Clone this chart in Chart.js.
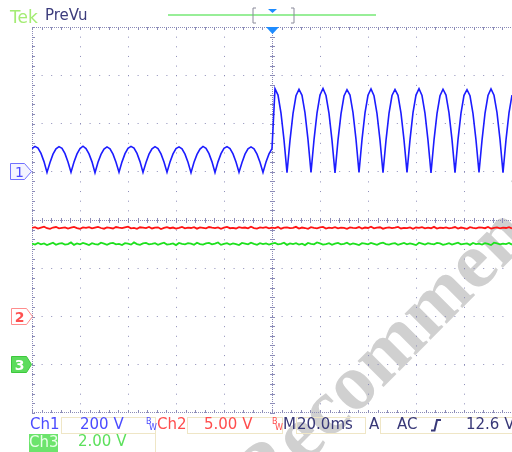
<!DOCTYPE html>
<html>
<head>
<meta charset="utf-8">
<script src="https://cdn.jsdelivr.net/npm/chart.js@4"></script>
<style>
  html, body { margin: 0; padding: 0; background: #fff; }
  #scope { position: relative; width: 512px; height: 452px; overflow: hidden; background: #fff; font-family: "DejaVu Sans", sans-serif; }
  #scope canvas { position: absolute; left: 0; top: 0; z-index: 1; }
  .txt { position: absolute; z-index: 2; font-size: 15px; line-height: 15px; white-space: nowrap; }
  .box { position: absolute; z-index: 2; border: 1px solid #efe6c6; box-sizing: border-box; }
  .vline { position: absolute; z-index: 2; width: 1px; background: #efe6c6; }
  .bw { position: absolute; z-index: 2; font-size: 8px; line-height: 8px; }
  .marker { position: absolute; z-index: 3; left: 0; width: 34px; height: 18px; }
  .marker span { position: absolute; left: 12px; top: 1px; width: 15px; text-align: center; font-size: 14px; line-height: 16px; }
  #watermark { position: absolute; z-index: 0; left: 423px; top: 310px; transform: translate(-50%, -50%) rotate(-45deg);
    font-family: "Liberation Serif", serif; font-weight: bold; font-size: 80px; color: #d0d0d0; white-space: nowrap; }
</style>
</head>
<body>
<div id="scope">
  <div id="watermark">Recommended</div>
  <canvas id="scope-canvas" width="512" height="452"></canvas>

  <!-- 上部ヘッダー -->
  <div class="txt" style="left:10px;top:9px;font-size:17px;line-height:17px;color:#a4ec74;">Tek</div>
  <div class="txt" style="left:45px;top:8px;color:#3c3c7c;">PreVu</div>
  <svg style="position:absolute;left:0;top:0;z-index:2" width="512" height="40">
    <line x1="168" y1="15" x2="376" y2="15" stroke="#98ee98" stroke-width="2"/>
    <polyline points="256,8 253,8 253,23 256,23" fill="none" stroke="#8a8a9a" stroke-width="1"/>
    <polyline points="291,8 294,8 294,23 291,23" fill="none" stroke="#8a8a9a" stroke-width="1"/>
    <polygon points="268,9 277,9 272.5,13" fill="#1e8cff"/>
    <polygon points="266,27 279,27 272.5,34" fill="#1e8cff"/>
  </svg>

  <!-- チャンネルマーカー -->
  <div class="marker" style="top:163px">
    <svg width="34" height="18"><polygon points="10.5,0.5 24.5,0.5 31.5,8.5 24.5,16.5 10.5,16.5" fill="#f4f4ff" stroke="#7070ff"/></svg>
    <span style="color:#4b4bff">1</span>
  </div>
  <div class="marker" style="top:308px">
    <svg width="34" height="18"><polygon points="11.5,0.5 26.5,0.5 32.5,8.5 26.5,16.5 11.5,16.5" fill="#fff" stroke="#ff8c8c"/></svg>
    <span style="color:#ff5050;font-weight:bold">2</span>
  </div>
  <div class="marker" style="top:356px">
    <svg width="34" height="18"><polygon points="11.5,0.5 26.5,0.5 31.5,8.5 26.5,16.5 11.5,16.5" fill="#5cdc5c" stroke="#3cc83c"/></svg>
    <span style="color:#fff;font-weight:bold">3</span>
  </div>

  <!-- 下部ステータス -->
  <div class="box" style="left:61px;top:417px;width:95px;height:17px"></div>
  <div class="vline" style="left:155px;top:433px;height:19px"></div>
  <div class="box" style="left:187px;top:417px;width:96px;height:17px"></div>
  <div class="box" style="left:296px;top:417px;width:70px;height:17px"></div>
  <div class="box" style="left:380px;top:417px;width:140px;height:17px"></div>

  <div class="txt" style="left:30px;top:417px;color:#4b4bff">Ch1</div>
  <div class="txt" style="left:80px;top:417px;color:#4b4bff">200 V</div>
  <div class="bw" style="left:146px;top:418px;color:#4b4bff">B</div>
  <div class="bw" style="left:149px;top:424px;color:#4b4bff">W</div>
  <div class="txt" style="left:157px;top:417px;color:#ff4d4d">Ch2</div>
  <div class="txt" style="left:204px;top:417px;color:#ff4d4d">5.00 V</div>
  <div class="bw" style="left:272px;top:418px;color:#ff4d4d">B</div>
  <div class="bw" style="left:275px;top:424px;color:#ff4d4d">W</div>
  <div class="txt" style="left:283px;top:417px;color:#383878">M</div>
  <div class="txt" style="left:297px;top:417px;color:#383878">20.0ms</div>
  <div class="txt" style="left:369px;top:417px;color:#383878">A</div>
  <div class="txt" style="left:397px;top:417px;color:#383878">AC</div>
  <svg style="position:absolute;left:0;top:410px;z-index:2" width="512" height="30">
    <polyline points="431,20.5 434.5,20.5 437,10 441,10" fill="none" stroke="#383878" stroke-width="2"/>
  </svg>
  <div class="txt" style="left:466px;top:417px;color:#383878">12.6 V</div>

  <div class="txt" style="left:29px;top:434px;width:29px;height:18px;background:#6ce46c;color:#e8ffe8;text-align:center;line-height:17px">Ch3</div>
  <div class="txt" style="left:78px;top:434px;color:#5ce05c">2.00 V</div>
</div>

<script>
// 時間軸（トリガー位置 = 0 ms）
const START_MS = -100;
const STEP_MS = 1.25;
const DIV_MS = 20;          // M 20.0ms
const X_TICKS = [-100, -80, -60, -40, -20, 0, 20, 40, 60, 80, 100];
const Y_TICKS = [-4, -3, -2, -1, 0, 1, 2, 3, 4];

// チャンネル設定（V/div と位置 div）
const CH1_VDIV = 200, CH1_POS = 1;
const CH2_VDIV = 5, CH2_POS = -2;
const CH3_VDIV = 2, CH3_POS = -3;

// Ch1 (V) — 全波整流波形、トリガーで振幅が増加
const ch1Volts = [
  96, 105, 98, 76, 42,
  -3, 38, 73, 95, 104, 97, 75, 40,
  -2, 40, 74, 96, 106, 96, 74, 41,
  -4, 39, 72, 94, 103, 95, 73, 39,
  -2, 41, 75, 97, 105, 98, 76, 42,
  -3, 38, 73, 95, 104, 96, 74, 40,
  -2, 40, 74, 96, 103, 95, 73, 39,
  -4, 39, 72, 94, 105, 97, 75, 41,
  -3, 41, 75, 97, 104, 96, 74, 40,
  -2, 38, 73, 95, 103, 95, 73, 39,
  -3, 40, 74, 96,
  344, 318, 243, 132,
  -4, 130, 241, 315, 342, 317, 244, 133,
  -3, 132, 243, 318, 345, 316, 242, 130,
  -5, 131, 240, 314, 340, 318, 245, 134,
  -3, 133, 244, 317, 343, 315, 241, 131,
  -4, 130, 242, 316, 341, 317, 243, 132,
  -3, 132, 245, 318, 344, 316, 242, 130,
  -5, 131, 241, 315, 342, 318, 244, 133,
  -4, 133, 243, 317, 340, 315, 241, 131,
  -3, 130, 242, 316, 343, 317, 245, 134,
  -4, 132, 244, 318
];

// Ch2 (V)
const ch2Volts = [
  9.18, 9.25, 9.12, 9.21, 9.30, 9.15, 9.09, 9.22, 9.27, 9.14, 9.19, 9.24, 9.11, 9.20, 9.28, 9.16, 9.08, 9.23, 9.19, 9.26,
  9.13, 9.21, 9.29, 9.17, 9.10, 9.24, 9.18, 9.12, 9.27, 9.20, 9.15, 9.23, 9.31, 9.14, 9.19, 9.09, 9.25, 9.21, 9.16, 9.28,
  9.12, 9.20, 9.24, 9.07, 9.18, 9.26, 9.15, 9.22, 9.11, 9.19, 9.29, 9.14, 9.21, 9.17, 9.25, 9.10, 9.23, 9.18, 9.13, 9.27,
  9.20, 9.16, 9.24, 9.09, 9.21, 9.28, 9.15, 9.19, 9.12, 9.26, 9.18, 9.22, 9.14, 9.30, 9.17, 9.11, 9.23, 9.19, 9.25, 9.13,
  9.21, 9.16, 9.27, 9.10, 9.20, 9.24, 9.15, 9.18, 9.29, 9.12, 9.22, 9.17, 9.08, 9.25, 9.19, 9.14, 9.23, 9.28, 9.11, 9.20,
  9.16, 9.26, 9.13, 9.21, 9.18, 9.09, 9.24, 9.19, 9.15, 9.27, 9.12, 9.22, 9.17, 9.30, 9.14, 9.20, 9.25, 9.10, 9.18, 9.23,
  9.15, 9.21, 9.28, 9.12, 9.19, 9.16, 9.24, 9.09, 9.22, 9.18, 9.26, 9.13, 9.20, 9.15, 9.29, 9.11, 9.21, 9.17, 9.24, 9.14,
  9.19, 9.27, 9.12, 9.22, 9.16, 9.08, 9.25, 9.18, 9.13, 9.23, 9.20, 9.15, 9.28, 9.11, 9.19, 9.24, 9.14, 9.21, 9.17, 9.26, 9.12
];

// Ch3 (V)
const ch3Volts = [
  5.02, 4.98, 5.05, 4.99, 5.03, 4.96, 5.01, 5.06, 4.97, 5.02, 5.04, 4.98, 5.00, 5.07, 4.97, 5.03, 4.99, 5.05, 5.01, 4.96,
  5.04, 5.00, 4.98, 5.06, 5.02, 4.97, 5.03, 5.05, 4.99, 5.01, 4.96, 5.04, 5.02, 4.98, 5.07, 5.00, 4.97, 5.03, 5.05, 4.99,
  5.01, 5.04, 4.97, 5.02, 5.06, 4.98, 5.00, 5.03, 4.96, 5.05, 5.01, 4.99, 5.04, 5.02, 4.97, 5.06, 5.00, 4.98, 5.03, 5.05,
  4.99, 5.02, 5.07, 4.97, 5.01, 5.04, 4.98, 5.03, 5.00, 4.96, 5.05, 5.02, 4.99, 5.06, 5.01, 4.97, 5.04, 5.00, 5.03, 4.98,
  5.02, 5.05, 4.99, 5.01, 5.06, 4.97, 5.03, 5.00, 5.04, 4.98, 5.02, 4.96, 5.05, 5.01, 4.99, 5.07, 5.03, 4.98, 5.00, 5.04,
  4.97, 5.02, 5.05, 4.99, 5.01, 5.06, 4.98, 5.03, 5.00, 4.96, 5.04, 5.02, 4.99, 5.05, 5.01, 4.97, 5.03, 5.06, 5.00, 4.98,
  5.02, 5.04, 4.97, 5.01, 5.05, 4.99, 5.03, 5.00, 4.96, 5.06, 5.02, 4.98, 5.04, 5.01, 4.99, 5.05, 5.03, 4.97, 5.00, 5.04,
  4.98, 5.02, 5.06, 4.99, 5.01, 5.03, 4.97, 5.05, 5.00, 5.02, 4.98, 5.04, 5.01, 4.96, 5.06, 5.03, 4.99, 5.02, 5.00, 5.05, 4.98
];

const GRID_COLOR = '#8c8cb8';

// 電圧 → 画面上の div 値
function toPoints(volts, vPerDiv, pos) {
  return volts.map((v, i) => ({ x: START_MS + i * STEP_MS, y: v / vPerDiv + pos }));
}

// 目盛り（枠・中心線・0.2div の小目盛り）
const graticule = {
  id: 'graticule',
  beforeDatasetsDraw(chart) {
    const { ctx, chartArea: a, scales: { x, y } } = chart;
    const cx = Math.round(x.getPixelForValue(0));
    const cy = Math.round(y.getPixelForValue(0));
    ctx.save();
    ctx.fillStyle = GRID_COLOR;
    for (let px = a.left; px < a.right; px += 2) {
      ctx.fillRect(px, a.top, 1, 1);
      ctx.fillRect(px, a.bottom - 1, 1, 1);
      ctx.fillRect(px, cy, 1, 1);
    }
    for (let py = a.top; py < a.bottom; py += 2) {
      ctx.fillRect(a.left, py, 1, 1);
      ctx.fillRect(cx, py, 1, 1);
    }
    for (let v = X_TICKS[0]; v <= X_TICKS[X_TICKS.length - 1]; v += DIV_MS / 5) {
      const px = Math.round(x.getPixelForValue(v));
      ctx.fillRect(px, cy - 2, 1, 5);
      ctx.fillRect(px, a.top, 1, 3);
      ctx.fillRect(px, a.bottom - 3, 1, 3);
    }
    for (let k = Y_TICKS[0] * 5; k <= Y_TICKS[Y_TICKS.length - 1] * 5; k++) {
      const py = Math.round(y.getPixelForValue(k / 5));
      ctx.fillRect(cx - 2, py, 5, 1);
      ctx.fillRect(a.left, py, 3, 1);
    }
    ctx.restore();
  },
};

// 枠と中心線は plugin で描くので、通常グリッドからは外す
const majorOnly = (edgeA, edgeB) => c =>
  (c.tick && (c.tick.value === 0 || c.tick.value === edgeA || c.tick.value === edgeB)) ? 'rgba(0,0,0,0)' : GRID_COLOR;

new Chart(document.getElementById('scope-canvas'), {
  type: 'line',
  data: {
    datasets: [
      { label: 'Ch1', data: toPoints(ch1Volts, CH1_VDIV, CH1_POS), borderColor: '#1c1cff', borderWidth: 1.6 },
      { label: 'Ch2', data: toPoints(ch2Volts, CH2_VDIV, CH2_POS), borderColor: '#ff1414', borderWidth: 1.8 },
      { label: 'Ch3', data: toPoints(ch3Volts, CH3_VDIV, CH3_POS), borderColor: '#1ee01e', borderWidth: 1.8 },
    ],
  },
  options: {
    responsive: false,
    devicePixelRatio: 1,
    animation: false,
    layout: { padding: { left: 32, top: 27, right: 0, bottom: 39 } },
    elements: { point: { radius: 0 }, line: { tension: 0, fill: false } },
    plugins: { legend: { display: false }, tooltip: { enabled: false } },
    scales: {
      x: {
        type: 'linear',
        min: X_TICKS[0],
        max: X_TICKS[X_TICKS.length - 1],
        afterBuildTicks: s => { s.ticks = X_TICKS.map(v => ({ value: v })); },
        ticks: { display: false },
        grid: { color: majorOnly(X_TICKS[0], X_TICKS[X_TICKS.length - 1]), drawTicks: false, lineWidth: 1 },
        border: { display: false, dash: [1, 8.65] },
      },
      y: {
        type: 'linear',
        min: Y_TICKS[0],
        max: Y_TICKS[Y_TICKS.length - 1],
        afterBuildTicks: s => { s.ticks = Y_TICKS.map(v => ({ value: v })); },
        ticks: { display: false },
        grid: { color: majorOnly(Y_TICKS[0], Y_TICKS[Y_TICKS.length - 1]), drawTicks: false, lineWidth: 1 },
        border: { display: false, dash: [1, 8.6] },
      },
    },
  },
  plugins: [graticule],
});
</script>
</body>
</html>
